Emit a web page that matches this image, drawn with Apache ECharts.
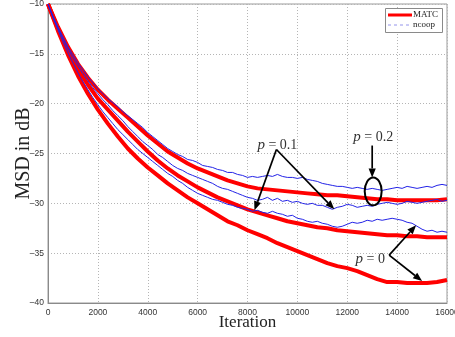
<!DOCTYPE html>
<html><head><meta charset="utf-8">
<script src="https://cdn.jsdelivr.net/npm/echarts@6/dist/echarts.min.js"></script>
<style>html,body{margin:0;padding:0;background:#fff}#c{width:455px;height:337px}</style>
</head><body><div id="c"></div>
<script>
// ---- data ----
const xTicks = [0, 2000, 4000, 6000, 8000, 10000, 12000, 14000, 16000];
const yTicks = [-40, -35, -30, -25, -20, -15, -10];
const redStep = 400;   // MATC sampled every 400 iterations
const blueStep = 200;  // ncoop sampled every 200 iterations

const matcP02 = [-10,-12.3,-14.3,-16.0,-17.4,-18.6,-19.6,-20.5,-21.4,-22.3,-23.2,-24.0,-24.8,-25.4,-26.0,-26.5,-26.9,-27.3,-27.7,-28.0,-28.3,-28.5,-28.6,-28.7,-28.8,-28.9,-29.0,-29.1,-29.2,-29.2,-29.3,-29.4,-29.5,-29.6,-29.6,-29.7,-29.7,-29.7,-29.7,-29.7,-29.6];
const matcP01 = [-10,-12.5,-14.7,-16.6,-18.1,-19.5,-20.6,-21.7,-22.8,-23.8,-24.8,-25.7,-26.5,-27.2,-27.8,-28.4,-28.9,-29.4,-29.8,-30.2,-30.6,-30.9,-31.2,-31.5,-31.8,-32.0,-32.2,-32.4,-32.5,-32.7,-32.8,-32.9,-33.0,-33.1,-33.2,-33.2,-33.3,-33.3,-33.4,-33.4,-33.4];
const matcP0 = [-10,-12.7,-15.1,-17.2,-19.0,-20.6,-22.0,-23.3,-24.5,-25.5,-26.4,-27.2,-28.0,-28.7,-29.4,-30.0,-30.6,-31.2,-31.8,-32.2,-32.7,-33.1,-33.5,-34.0,-34.4,-34.8,-35.2,-35.6,-36.0,-36.3,-36.5,-36.8,-37.2,-37.6,-37.9,-37.9,-38.0,-38.0,-38.0,-37.9,-37.7];

const ncoopP02 = [-10.0,-11.2,-12.3,-13.3,-14.3,-15.1,-15.9,-16.6,-17.3,-17.9,
 -18.5,-19.0,-19.5,-19.9,-20.3,-20.8,-21.2,-21.6,-22.0,-22.4,
 -22.9,-23.3,-23.7,-24.1,-24.5,-24.8,-25.1,-25.3,-25.6,-25.7,
 -25.9,-26.2,-26.3,-26.4,-26.6,-26.7,-26.9,-26.9,-27.1,-27.2,
 -27.4,-27.3,-27.4,-27.3,-27.2,-27.3,-27.1,-27.3,-27.4,-27.4,
 -27.5,-27.4,-27.6,-27.7,-27.8,-28.0,-28.1,-28.2,-28.3,-28.3,
 -28.4,-28.5,-28.4,-28.5,-28.6,-28.5,-28.6,-28.7,-28.6,-28.5,
 -28.4,-28.5,-28.3,-28.4,-28.5,-28.4,-28.3,-28.4,-28.2,-28.1,
 -28.2];
const ncoopP01 = [-10.0,-11.3,-12.4,-13.5,-14.5,-15.4,-16.2,-17.0,-17.7,-18.4,
 -19.0,-19.6,-20.1,-20.7,-21.2,-21.7,-22.3,-22.8,-23.3,-23.8,
 -24.2,-24.6,-25.1,-25.4,-25.8,-26.2,-26.5,-26.7,-27.0,-27.2,
 -27.4,-27.6,-27.8,-28.0,-28.3,-28.5,-28.6,-28.8,-29.0,-29.2,
 -29.4,-29.5,-29.7,-29.6,-29.4,-29.7,-29.5,-29.8,-29.7,-29.9,
 -29.8,-30.0,-30.1,-30.0,-30.2,-30.2,-30.4,-30.6,-30.4,-30.3,
 -30.1,-30.2,-30.4,-30.3,-30.2,-30.3,-30.1,-30.0,-29.9,-30.0,
 -30.1,-30.0,-29.8,-29.9,-30.0,-29.9,-29.8,-29.7,-29.6,-29.8,
 -29.7];
const ncoopP0 = [-10.0,-11.4,-12.6,-13.8,-14.9,-15.9,-16.9,-17.8,-18.6,-19.4,
 -20.1,-20.8,-21.4,-22.0,-22.6,-23.1,-23.6,-24.1,-24.6,-25.0,
 -25.4,-25.8,-26.2,-26.6,-27.0,-27.3,-27.7,-28.0,-28.4,-28.7,
 -29.0,-29.2,-29.4,-29.6,-29.7,-29.9,-30.1,-30.2,-30.4,-30.5,
 -30.6,-30.8,-30.7,-30.9,-31.0,-30.8,-31.0,-31.1,-31.3,-31.2,
 -31.5,-31.6,-31.8,-31.9,-31.8,-32.0,-32.1,-32.3,-32.4,-32.3,
 -32.1,-31.9,-32.0,-31.9,-31.7,-31.8,-31.6,-31.7,-31.6,-31.5,
 -31.6,-31.7,-31.9,-32.0,-32.3,-32.6,-32.8,-32.7,-32.9,-32.8,
 -32.9];

// annotations in data coordinates
const annoLabels = [
  {val: '0.1', at: [9200, -24.2]},
  {val: '0.2', at: [13040, -23.4]},
  {val: '0',   at: [12920, -35.6]}
];
const annoArrows = [
  [[9160, -24.6], [8280, -30.7]],
  [[9160, -24.6], [11480, -30.6]],
  [[13000, -24.2], [13000, -27.4]],
  [[13680, -35.2], [14760, -32.2]],
  [[13680, -35.2], [15000, -37.8]]
];
const annoEllipse = {center: [13040, -28.8], rx: 340, ry: 1.4};

// ---- build ----
function pairs(arr, step){ return arr.map((v,i)=>[i*step, v]); }
const RED = '#ff0000', BLUE = '#2323e6';
const serif = '"Liberation Serif","DejaVu Serif",serif';
const sans = '"Liberation Sans","DejaVu Sans",sans-serif';

const chart = echarts.init(document.getElementById('c'), null, {renderer:'canvas'});
const redSeries = (name, d) => ({name, type:'line', data:pairs(d, redStep), showSymbol:false, symbol:'none',
  lineStyle:{color:RED, width:4}, itemStyle:{color:RED}, z:2, silent:true});
const blueSeries = (name, d) => ({name, type:'line', data:pairs(d, blueStep), showSymbol:false, symbol:'none',
  lineStyle:{color:BLUE, width:1}, itemStyle:{color:BLUE}, z:3, silent:true});

chart.setOption({
  animation:false,
  backgroundColor:'#ffffff',
  grid:{left:48, right:8, top:4, bottom:34, outerBoundsMode:'none', containLabel:false,
    show:true, borderColor:'#9a9a9a', borderWidth:1, backgroundColor:'#fff'},
  xAxis:{type:'value', min:xTicks[0], max:xTicks[xTicks.length-1], interval:2000,
    name:'Iteration', nameLocation:'middle', nameGap:11, nameMoveOverlap:false,
    nameTextStyle:{fontFamily:serif, fontSize:17, color:'#222', verticalAlign:'top'},
    axisLine:{lineStyle:{color:'#8a8a8a'}}, axisTick:{show:false},
    axisLabel:{fontFamily:sans, fontSize:8.5, color:'#333', margin:5, hideOverlap:false,
      formatter:v => String(v)},
    splitLine:{show:true, lineStyle:{type:[1,2], color:'#b5b5b5'}}},
  yAxis:{type:'value', min:yTicks[0], max:yTicks[yTicks.length-1], interval:5,
    name:'MSD in dB', nameLocation:'middle', nameGap:14, nameRotate:90, nameMoveOverlap:false,
    nameTextStyle:{fontFamily:serif, fontSize:20, color:'#222', verticalAlign:'bottom'},
    axisLine:{show:true, lineStyle:{color:'#8a8a8a'}}, axisTick:{show:false},
    axisLabel:{fontFamily:sans, fontSize:8.5, color:'#333', margin:4,
      formatter:v => (v<0 ? '\u2013' : '') + Math.abs(v)},
    splitLine:{show:true, lineStyle:{type:[1,2], color:'#b5b5b5'}}},
  series:[
    redSeries('MATC p=0.2', matcP02),
    redSeries('MATC p=0.1', matcP01),
    redSeries('MATC p=0', matcP0),
    blueSeries('ncoop p=0.2', ncoopP02),
    blueSeries('ncoop p=0.1', ncoopP01),
    blueSeries('ncoop p=0', ncoopP0)
  ]
});

// annotations & legend
const px = p => chart.convertToPixel({gridIndex:0}, p);
const g = [];
annoArrows.forEach(([a,b]) => {
  const A = px(a), B = px(b);
  const dx = B[0]-A[0], dy = B[1]-A[1], L = Math.hypot(dx,dy);
  const ux = dx/L, uy = dy/L, hl = 9, hw = 3.6;
  const base = [B[0]-ux*hl, B[1]-uy*hl];
  g.push({type:'line', shape:{x1:A[0], y1:A[1], x2:base[0], y2:base[1]}, style:{stroke:'#000', lineWidth:1.7}, z:10, silent:true});
  g.push({type:'polygon', shape:{points:[B, [base[0]-uy*hw, base[1]+ux*hw], [base[0]+uy*hw, base[1]-ux*hw]]}, style:{fill:'#000'}, z:10, silent:true});
});
{
  const C = px(annoEllipse.center);
  const R = px([annoEllipse.center[0]+annoEllipse.rx, annoEllipse.center[1]+annoEllipse.ry]);
  g.push({type:'ellipse', shape:{cx:C[0], cy:C[1], rx:Math.abs(R[0]-C[0]), ry:Math.abs(R[1]-C[1])},
    style:{fill:null, stroke:'#000', lineWidth:2}, z:10, silent:true});
}
annoLabels.forEach(l => {
  const P = px(l.at);
  g.push({type:'text', x:P[0], y:P[1], z:11, silent:true,
    style:{text:'{i|p} = ' + l.val, align:'center', verticalAlign:'middle',
      fontFamily:serif, fontSize:14, fill:'#333',
      rich:{i:{fontFamily:serif, fontSize:15, fontStyle:'italic', fill:'#333'}}}});
});
// legend box
g.push({type:'rect', shape:{x:385.5, y:8.5, width:57, height:24}, style:{fill:'#fff', stroke:'#8a8a8a', lineWidth:1}, z:12, silent:true});
g.push({type:'line', shape:{x1:388, y1:15, x2:412, y2:15}, style:{stroke:RED, lineWidth:3}, z:13, silent:true});
g.push({type:'text', x:413, y:15, style:{text:'MATC', fontFamily:serif, fontSize:9, fill:'#222', verticalAlign:'middle'}, z:13, silent:true});
g.push({type:'line', shape:{x1:388, y1:25, x2:412, y2:25}, style:{stroke:'#7a7ae6', lineWidth:0.8, lineDash:[3,3]}, z:13, silent:true});
g.push({type:'text', x:413, y:25, style:{text:'ncoop', fontFamily:serif, fontSize:9, fill:'#222', verticalAlign:'middle'}, z:13, silent:true});
chart.setOption({graphic:g});
</script></body></html>
